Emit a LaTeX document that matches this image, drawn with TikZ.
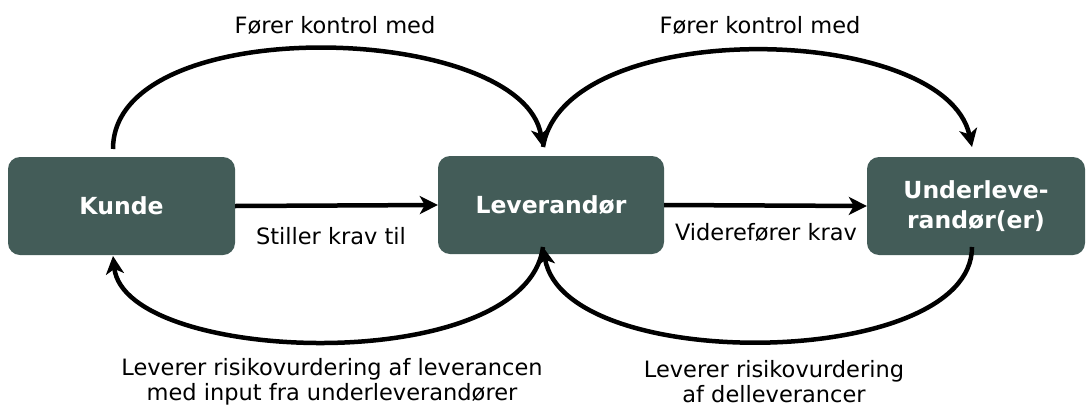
\documentclass[tikz,border=0pt]{standalone}
\usepackage{fontspec}
\setmainfont{DejaVu Sans}
\usetikzlibrary{arrows.meta}
\definecolor{boxgreen}{HTML}{435C58}
\begin{document}
\begin{tikzpicture}[x=1pt,y=-1pt,
  actor/.style={rounded corners=12pt, fill=boxgreen, text=white,
    font=\fontsize{23.5}{30}\selectfont\bfseries, align=center,
    minimum height=98pt, inner sep=0pt},
  lbl/.style={font=\fontsize{22.5}{25}\selectfont, align=center, inner sep=0pt},
  arr/.style={line width=4.5pt, -{Stealth[length=18pt,width=18pt,inset=5pt]}}]
\useasboundingbox (0,0) rectangle (1086,407);
% boxes
\node[actor, minimum width=227pt] (kunde) at (121.5,206) {Kunde};
\node[actor, minimum width=226pt] (lev) at (551,205) {Leverandør};
\node[actor, minimum width=218pt] (under) at (976,206) {Underleve-\\randør(er)};
% connector end points
\coordinate (kTop) at (113,149);
\coordinate (lTop) at (543,147);
\coordinate (uTop) at (972,147);
\coordinate (kBot) at (113,256);
\coordinate (lBot) at (543,247);
\coordinate (uBot) at (972,247);
% horizontal
\draw[arr] (kunde.east) -- (lev.west);
\draw[arr] (lev.east) -- (under.west);
% top arcs
\draw[arr] (kTop) .. controls (113,10) and (522,22) .. (lTop);
\draw[arr] (lTop) .. controls (565,15) and (945,22) .. (uTop);
% bottom arcs
\draw[arr] (lBot) .. controls (525,378) and (125,365) .. (kBot);
\draw[arr] (uBot) .. controls (972,370) and (565,375) .. (lBot);
% labels
\node[lbl] (l1) at (335,25) {Fører kontrol med};
\node[lbl] (l2) at (760,25) {Fører kontrol med};
\node[lbl] (l3) at (331,236) {Stiller krav til};
\node[lbl] (l4) at (766,232) {Viderefører krav};
\node[lbl] (l5) at (332,382) {Leverer risikovurdering af leverancen\\med input fra underleverandører};
\node[lbl] (l6) at (774,382) {Leverer risikovurdering\\af delleverancer};
\end{tikzpicture}
\end{document}
